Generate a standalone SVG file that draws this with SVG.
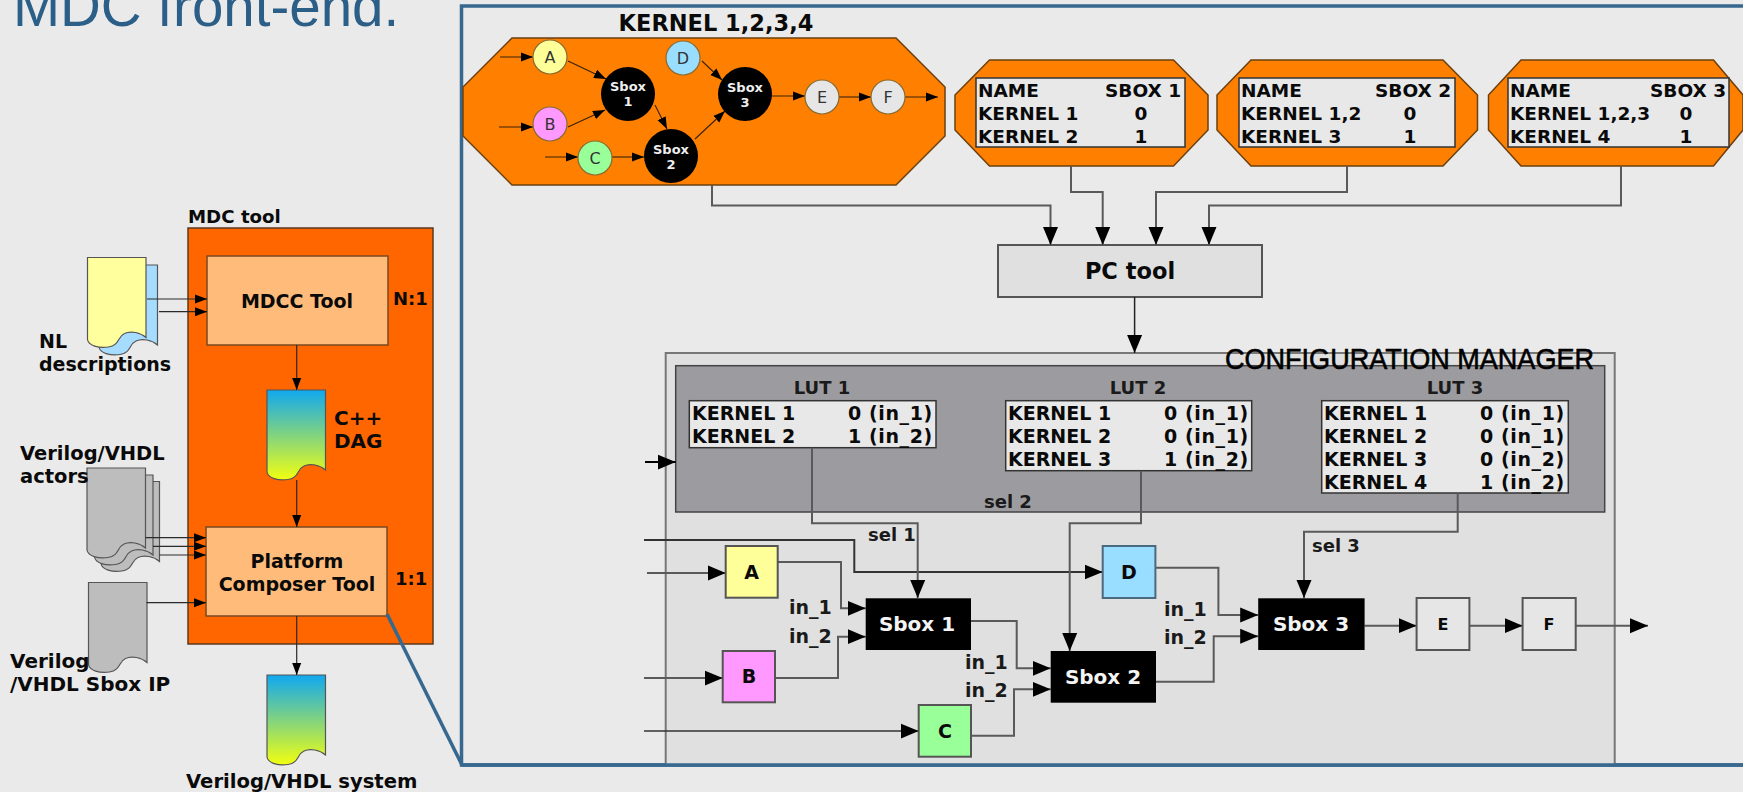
<svg xmlns="http://www.w3.org/2000/svg" width="1743" height="792" viewBox="0 0 1743 792">
<style>
text{font-family:"DejaVu Sans",Verdana,sans-serif;font-weight:bold;fill:#0a0a0a;font-size:19px}
.m{text-anchor:middle}
.r{font-weight:normal}
.s{font-size:18px;fill:#1a1a1a}
.in{font-size:19px;fill:#1a1a1a}
.o{font-size:18.500px}
.v{font-size:19px;letter-spacing:.6px}
.w{fill:#f4f4f4;font-size:20px}
.sm{font-size:13px;fill:#eee;text-anchor:middle}
.l{fill:none;stroke:#5a5a5a;stroke-width:2}
.big{marker-end:url(#ab)}
.t{fill:none;stroke:#2a2a2a;stroke-width:1.2;marker-end:url(#as)}
.k{fill:none;stroke:#3a2008;stroke-width:1.1;marker-end:url(#as)}
.box{stroke:#555;stroke-width:2}
.oct{fill:#ff8000;stroke:#6b4010;stroke-width:1.5}
.tbl{fill:#e8e8e8;stroke:#333;stroke-width:1.5}
.doc{stroke:#555;stroke-width:1.2}
.c{stroke:#8a6a30;stroke-width:1.2}
.cl{font-size:16px;fill:#333;font-weight:normal;text-anchor:middle}
</style>
<defs>
<marker id="ab" markerUnits="userSpaceOnUse" markerWidth="20" markerHeight="17" refX="18" refY="8" orient="auto"><path d="M0,0.5 L18,8 L0,15.500Z" fill="#000"/></marker>
<marker id="as" markerUnits="userSpaceOnUse" markerWidth="13" markerHeight="10" refX="12" refY="5" orient="auto"><path d="M0,0.5 L12,5 L0,9.5Z" fill="#000"/></marker>
<linearGradient id="g" x1="0" y1="0" x2="0" y2="1"><stop offset="0" stop-color="#10a8f0"/><stop offset="1" stop-color="#f2ff10"/></linearGradient>
<path id="d" d="M0,0H58.5V80C53,75 43,73 37,76C30,79 32,88 21,89.500C11,91 1,88 0,82Z"/>
</defs>
<rect width="1743" height="792" fill="#eaeaea"/>
<text x="13" y="26" style="font-family:'Liberation Sans',Arial,sans-serif;font-weight:normal;font-size:56.500px;fill:#2c5f87">MDC front-end.</text>

<g id="mdc-tool">
<rect x="188" y="228" width="245" height="416" fill="#ff6600" stroke="#5a3a20" stroke-width="1.500"/>
<text x="188" y="223" style="font-size:18.200px">MDC tool</text>
</g>
<g id="mdcc-tool">
<rect x="207" y="256" width="181" height="89" fill="#ffbb7a" stroke="#7a4a20" stroke-width="1.500"/>
<text x="297" y="308" class="m">MDCC Tool</text>
<text x="393" y="305" style="font-size:18px">N:1</text>
</g>
<g id="platform-composer">
<rect x="206" y="527" width="181" height="89" fill="#ffbb7a" stroke="#7a4a20" stroke-width="1.500"/>
<text x="297" y="568" class="m">Platform</text>
<text x="297" y="591" class="m">Composer Tool</text>
<text x="395" y="585" style="font-size:18px">1:1</text>
</g>
<g id="nl-descriptions">
<use href="#d" x="99" y="265" fill="#a6dcff" class="doc"/>
<use href="#d" x="87.500" y="257.500" fill="#ffff9e" class="doc"/>
<text x="39" y="348">NL</text>
<text x="39" y="371">descriptions</text>
</g>
<g id="cpp-dag">
<use href="#d" x="267" y="390" fill="url(#g)" class="doc"/>
<text x="334" y="425" style="font-size:20px">C++</text>
<text x="334" y="448" style="font-size:20px">DAG</text>
</g>
<g id="actors">
<use href="#d" x="101" y="481.500" fill="#bdbdbd" class="doc"/>
<use href="#d" x="94.500" y="475" fill="#bdbdbd" class="doc"/>
<use href="#d" x="87" y="468" fill="#bdbdbd" class="doc"/>
<text x="20" y="460" style="font-size:19.500px">Verilog/VHDL</text>
<text x="20" y="483" style="font-size:19.500px">actors</text>
</g>
<g id="sbox-ip">
<use href="#d" x="88.500" y="582.500" fill="#bdbdbd" class="doc"/>
<text x="10" y="668" style="font-size:20px">Verilog</text>
<text x="10" y="691" style="font-size:20px">/VHDL Sbox IP</text>
</g>
<g id="system">
<use href="#d" x="267" y="675" fill="url(#g)" class="doc"/>
<text x="186" y="788" style="font-size:19.600px">Verilog/VHDL system</text>
</g>

<g id="frame">
<path d="M387,614L462,765" fill="none" stroke="#37688f" stroke-width="3.500"/>
<path d="M1743,6H461.500V765H1743" fill="#eaeaea" stroke="#37688f" stroke-width="3.500"/>
</g>

<g id="kernel-main">
<path class="oct" d="M512,38H896L945,87V136L896,185H512L463,136V87Z"/>
<text x="716" y="31" class="m" style="font-size:22.500px">KERNEL 1,2,3,4</text>
</g>
<g id="kernel-graph-connectors">
<path class="k" d="M500,57H533"/>
<path class="k" d="M568,61L606,79"/>
<path class="k" d="M499,127H533"/>
<path class="k" d="M568,127L605,110"/>
<path class="k" d="M545,157H578"/>
<path class="k" d="M612,157H644"/>
<path class="k" d="M655,105L667,129"/>
<path class="k" d="M702,61L722,80"/>
<path class="k" d="M695,139L725,111"/>
<path class="k" d="M772,96H805"/>
<path class="k" d="M839,97H871"/>
<path class="k" d="M905,97H938"/>
</g>
<g id="k-a"><circle class="c" cx="550" cy="57" r="17" fill="#ffff99"/><text x="550" y="63" class="cl">A</text></g>
<g id="k-b"><circle class="c" cx="550" cy="124" r="17" fill="#ff99ff"/><text x="550" y="130" class="cl">B</text></g>
<g id="k-c"><circle class="c" cx="595" cy="158" r="17" fill="#99ff99"/><text x="595" y="164" class="cl">C</text></g>
<g id="k-d"><circle class="c" cx="683" cy="58" r="17" fill="#99ddff"/><text x="683" y="64" class="cl">D</text></g>
<g id="k-e"><circle class="c" cx="822" cy="97" r="17" fill="#e6e6e6"/><text x="822" y="103" class="cl">E</text></g>
<g id="k-f"><circle class="c" cx="888" cy="97" r="17" fill="#e6e6e6"/><text x="888" y="103" class="cl">F</text></g>
<g id="k-s1"><circle cx="628" cy="94" r="27" fill="#000"/><text x="628" y="91" class="sm">Sbox</text><text x="628" y="106" class="sm">1</text></g>
<g id="k-s2"><circle cx="671" cy="156" r="27" fill="#000"/><text x="671" y="154" class="sm">Sbox</text><text x="671" y="169" class="sm">2</text></g>
<g id="k-s3"><circle cx="745" cy="94" r="27" fill="#000"/><text x="745" y="92" class="sm">Sbox</text><text x="745" y="107" class="sm">3</text></g>

<g id="table-sbox1">
<path class="oct" d="M989.500,60H1173.500L1208,95V130L1173.500,166H989.500L955,130V95Z"/>
<rect class="tbl" x="976" y="78" width="209" height="69"/>
<text x="978" y="97" class="o">NAME</text><text x="1105" y="97" class="o">SBOX 1</text>
<text x="978" y="120" class="o">KERNEL 1</text><text x="1141" y="120" class="m o">0</text>
<text x="978" y="143" class="o">KERNEL 2</text><text x="1141" y="143" class="m o">1</text>
</g>
<g id="table-sbox2">
<path class="oct" d="M1251,60H1443L1477.500,95V130L1443,166H1251L1217,130V95Z"/>
<rect class="tbl" x="1239" y="78" width="216" height="69"/>
<text x="1241" y="97" class="o">NAME</text><text x="1375" y="97" class="o">SBOX 2</text>
<text x="1241" y="120" class="o">KERNEL 1,2</text><text x="1410" y="120" class="m o">0</text>
<text x="1241" y="143" class="o">KERNEL 3</text><text x="1410" y="143" class="m o">1</text>
</g>
<g id="table-sbox3">
<path class="oct" d="M1521,60H1713.500L1743,95V130L1713.500,166H1521L1488.500,130V95Z"/>
<rect class="tbl" x="1508" y="78" width="221" height="69"/>
<text x="1510" y="97" class="o">NAME</text><text x="1650" y="97" class="o">SBOX 3</text>
<text x="1510" y="120" class="o">KERNEL 1,2,3</text><text x="1686" y="120" class="m o">0</text>
<text x="1510" y="143" class="o">KERNEL 4</text><text x="1686" y="143" class="m o">1</text>
</g>
<g id="pc-tool">
<rect class="box" x="998" y="245" width="264" height="52" fill="#e0e0e0"/>
<text x="1130" y="279" class="m" style="font-size:22.500px">PC tool</text>
</g>

<g id="config-manager">
<rect x="665.700" y="353" width="949" height="412" fill="#e0e0e0" stroke="#777" stroke-width="2"/>
<rect x="675.700" y="365.700" width="929" height="146.300" fill="#9c9ca0" stroke="#444" stroke-width="1.500"/>
<path d="M1743,765H461.500" fill="none" stroke="#37688f" stroke-width="3.500"/>
<text x="1225" y="369" textLength="369" lengthAdjust="spacingAndGlyphs" style="font-family:'Liberation Sans',Arial,sans-serif;font-weight:normal;font-size:29px;fill:#000;stroke:#000;stroke-width:.6px">CONFIGURATION MANAGER</text>
</g>
<g id="lut1">
<text x="822" y="394" class="m s">LUT 1</text>
<rect class="tbl" x="689.300" y="400.700" width="246.700" height="47"/>
<text x="692" y="420">KERNEL 1</text><text x="848" y="420" class="v">0 (in_1)</text>
<text x="692" y="443">KERNEL 2</text><text x="848" y="443" class="v">1 (in_2)</text>
</g>
<g id="lut2">
<text x="1138" y="394" class="m s">LUT 2</text>
<rect class="tbl" x="1005.700" y="400.700" width="246" height="70"/>
<text x="1008" y="420">KERNEL 1</text><text x="1164" y="420" class="v">0 (in_1)</text>
<text x="1008" y="443">KERNEL 2</text><text x="1164" y="443" class="v">0 (in_1)</text>
<text x="1008" y="466">KERNEL 3</text><text x="1164" y="466" class="v">1 (in_2)</text>
</g>
<g id="lut3">
<text x="1455" y="394" class="m s">LUT 3</text>
<rect class="tbl" x="1321.700" y="400.700" width="246.600" height="92.300"/>
<text x="1324" y="420">KERNEL 1</text><text x="1480" y="420" class="v">0 (in_1)</text>
<text x="1324" y="443">KERNEL 2</text><text x="1480" y="443" class="v">0 (in_1)</text>
<text x="1324" y="466">KERNEL 3</text><text x="1480" y="466" class="v">0 (in_2)</text>
<text x="1324" y="489">KERNEL 4</text><text x="1480" y="489" class="v">1 (in_2)</text>
</g>

<g id="connectors">
<path class="t" d="M147,299H207"/>
<path class="t" d="M159,311.700H207"/>
<path class="t" d="M296.700,345V390"/>
<path class="t" d="M296.700,480V527"/>
<path class="t" d="M145.500,537.700H206"/>
<path class="t" d="M153,546.300H206"/>
<path class="t" d="M159.500,555H206"/>
<path class="t" d="M146.500,602.700H206"/>
<path class="t" d="M296.700,616V675"/>
<path class="l big" d="M712,185V205.500H1050.500V245"/>
<path class="l big" d="M1071,166V192H1102.700V245"/>
<path class="l big" d="M1347,166V192H1156V245"/>
<path class="l big" d="M1621,166V205.500H1209V245"/>
<path class="l big" d="M1134.600,297V353" style="stroke:#222;stroke-width:1.500"/>
<path class="l big" d="M645,462H675.700" style="stroke:#000"/>
<path class="l big" d="M644,540H854.300V572H1102.700" style="stroke:#333"/>
<path class="l big" d="M647,573H725.700"/>
<path class="l big" d="M777.700,562H841V608.300H865.700"/>
<path class="l big" d="M644,678H722.700"/>
<path class="l big" d="M775,678H838V636.700H865.700"/>
<path class="l big" d="M644,731H918.700" style="stroke:#333;stroke-width:1.500"/>
<path class="l big" d="M971,735.700H1014V689.300H1050.700"/>
<path class="l big" d="M971,621H1016.700V668.300H1050.700"/>
<path class="l big" d="M1156,681.700H1213.700V636.300H1258.200"/>
<path class="l big" d="M1155.400,567.700H1218.400V615H1258.200"/>
<path class="l big" d="M1364.600,625.700H1416.600"/>
<path class="l big" d="M1469.400,625.700H1522.600"/>
<path class="l big" d="M1575.700,625.700H1648"/>
<path class="l big" d="M812,447.700V523.300H917.700V598"/>
<path class="l big" d="M1141,470.700V523.300H1069.700V651"/>
<path class="l big" d="M1457.700,493V531.700H1304V598"/>
</g>

<g id="labels">
<text x="984" y="508" class="s">sel 2</text>
<text x="868" y="541" class="s">sel 1</text>
<text x="1312" y="552" class="s">sel 3</text>
<text x="789" y="614" class="in">in_1</text>
<text x="789" y="643" class="in">in_2</text>
<text x="965" y="669" class="in">in_1</text>
<text x="965" y="697" class="in">in_2</text>
<text x="1164" y="616" class="in">in_1</text>
<text x="1164" y="644" class="in">in_2</text>
</g>

<g id="block-a"><rect class="box" x="725.700" y="546" width="52" height="51.700" fill="#ffff99" stroke="#666"/><text x="751.700" y="579" class="m">A</text></g>
<g id="block-b"><rect class="box" x="722.700" y="651" width="52.300" height="51.300" fill="#ff99ff"/><text x="749" y="683" class="m">B</text></g>
<g id="block-c"><rect class="box" x="918.700" y="705" width="52.300" height="51.700" fill="#99ff99"/><text x="945" y="738" class="m">C</text></g>
<g id="block-d"><rect class="box" x="1102.700" y="546" width="52.700" height="52" fill="#99ddff" style="stroke:#4a6a80"/><text x="1129" y="579" class="m">D</text></g>
<g id="block-e"><rect class="box" x="1416.600" y="598" width="52.800" height="52" fill="#e6e6e6"/><text x="1443" y="630" class="m" style="font-size:16px">E</text></g>
<g id="block-f"><rect class="box" x="1522.600" y="598" width="53.100" height="52" fill="#e6e6e6"/><text x="1549" y="630" class="m" style="font-size:16px">F</text></g>
<g id="sbox-1"><rect x="865.700" y="598.300" width="105.300" height="51.700" fill="#000"/><text x="917" y="631" class="m w">Sbox 1</text></g>
<g id="sbox-2"><rect x="1050.700" y="651" width="105.300" height="51.700" fill="#000"/><text x="1103" y="684" class="m w">Sbox 2</text></g>
<g id="sbox-3"><rect x="1258.200" y="598.300" width="106.400" height="51.700" fill="#000"/><text x="1311" y="631" class="m w">Sbox 3</text></g>
</svg>
